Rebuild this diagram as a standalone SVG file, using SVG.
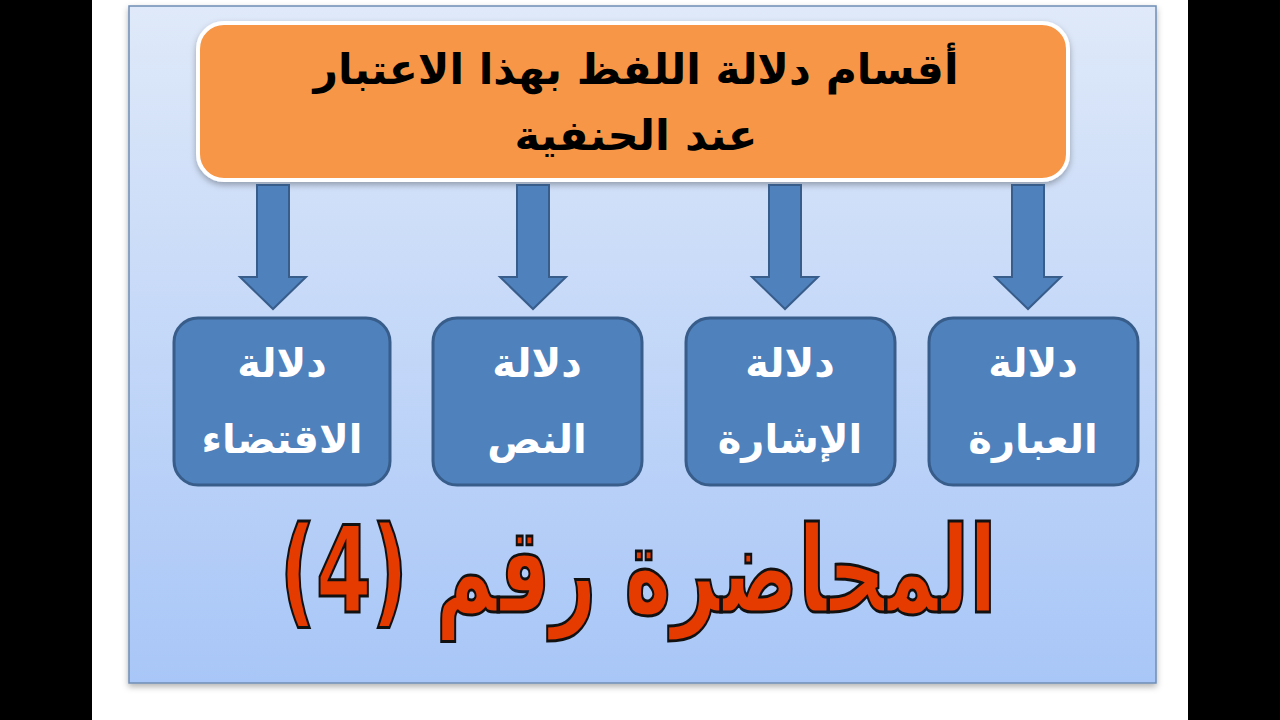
<svg xmlns="http://www.w3.org/2000/svg" width="1280" height="720" viewBox="0 0 1280 720">
<defs>
<linearGradient id="bg" x1="0" y1="0" x2="0" y2="1">
<stop offset="0" stop-color="#dfe9f9"/>
<stop offset="1" stop-color="#a8c6f7"/>
</linearGradient>
<filter id="sh" x="-5%" y="-5%" width="110%" height="115%">
<feDropShadow dx="0" dy="3" stdDeviation="3" flood-color="#000" flood-opacity="0.3"/>
</filter>
<path id="arr" d="M-16,0 H16 V92 H33 L0,124 L-33,92 H-16 Z"/>
</defs>
<style>
.box{fill:#4f81bd;stroke:#385d8a;stroke-width:3}
.arrow{fill:#4f81bd;stroke:#385d8a;stroke-width:2}
.bt{font-family:"DejaVu Sans",sans-serif;font-weight:bold;font-size:40px;fill:#fff;text-anchor:middle}
.tt{font-family:"DejaVu Sans",sans-serif;font-weight:bold;font-size:42px;fill:#000;text-anchor:middle}
.big{font-family:"DejaVu Sans",sans-serif;font-weight:bold;font-size:120px;fill:#e53a00;stroke:#111;stroke-width:3;text-anchor:middle}
</style>
<rect x="0" y="0" width="1280" height="720" fill="#fff"/>
<rect x="0" y="0" width="92" height="720" fill="#000"/>
<rect x="1188" y="0" width="92" height="720" fill="#000"/>
<rect x="129" y="6" width="1027" height="677" fill="url(#bg)" stroke="#6f8db5" stroke-width="1.5" filter="url(#sh)"/>
<g id="top">
<rect x="198" y="23" width="870" height="157" rx="26" fill="#f79646" stroke="#fff" stroke-width="4" filter="url(#sh)"/>
<text class="tt" x="636" y="84" direction="rtl" textLength="645" lengthAdjust="spacingAndGlyphs">أقسام دلالة اللفظ بهذا الاعتبار</text>
<text class="tt" x="636" y="150" direction="rtl" textLength="243" lengthAdjust="spacingAndGlyphs">عند الحنفية</text>
</g>
<g id="connectors">
<use href="#arr" class="arrow" x="273" y="185"/>
<use href="#arr" class="arrow" x="533" y="185"/>
<use href="#arr" class="arrow" x="785" y="185"/>
<use href="#arr" class="arrow" x="1028" y="185"/>
</g>
<g id="n1">
<rect class="box" x="174" y="318" width="216" height="167" rx="24"/>
<text class="bt" x="282" y="377" direction="rtl">دلالة</text>
<text class="bt" x="282" y="453" direction="rtl">الاقتضاء</text>
</g>
<g id="n2">
<rect class="box" x="433" y="318" width="209" height="167" rx="24"/>
<text class="bt" x="537" y="377" direction="rtl">دلالة</text>
<text class="bt" x="537" y="453" direction="rtl">النص</text>
</g>
<g id="n3">
<rect class="box" x="686" y="318" width="209" height="167" rx="24"/>
<text class="bt" x="790" y="377" direction="rtl">دلالة</text>
<text class="bt" x="790" y="453" direction="rtl">الإشارة</text>
</g>
<g id="n4">
<rect class="box" x="929" y="318" width="209" height="167" rx="24"/>
<text class="bt" x="1033" y="377" direction="rtl">دلالة</text>
<text class="bt" x="1033" y="453" direction="rtl">العبارة</text>
</g>
<g id="title">
<text class="big" x="638" y="612" direction="rtl" textLength="717" lengthAdjust="spacingAndGlyphs">المحاضرة رقم (4)</text>
</g>
</svg>
